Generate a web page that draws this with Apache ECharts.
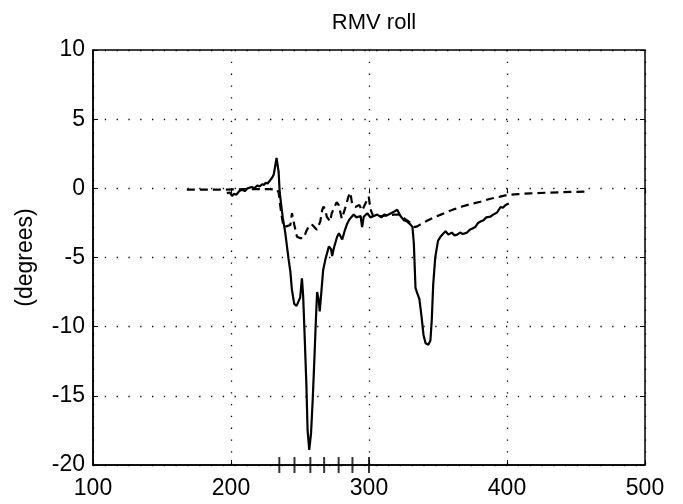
<!DOCTYPE html>
<html>
<head>
<meta charset="utf-8">
<script src="https://cdn.jsdelivr.net/npm/echarts@6/dist/echarts.min.js"></script>
<style>html,body{margin:0;padding:0;background:#fff}#c{width:683px;height:504px}</style>
</head>
<body>
<div id="c"></div>
<script>
var xTicks = [100, 200, 300, 400, 500];
var yTicks = [-20, -15, -10, -5, 0, 5, 10];
var eventX = [235, 246, 257.5, 267.5, 278, 288, 300];

var solidX = [197,199,200.8,202,204,206,208,210,212,215,217,219,221,222.5,224,225,226.5,228.5,230,231,232,233,233.8,234.5,235.3,236.5,237.5,239.3,241.7,243,244.1,245.8,247.5,248.9,250.1,251.4,252.3,253.3,254.6,255.5,256.7,258,259.2,260.4,261.6,262.4,263.6,264.3,265.3,266.8,268.5,270.9,272.5,273.3,274.6,276.9,278.2,280.6,282.3,284,285.5,287,288.9,291,293.9,295,296.2,298.8,301,303.4,306,309,311,313.1,316,318,320.4,322.8,325.2,327.6,330,331.5,332.5,333.7,335,336.5,338,339.5,341,343,344.5,345.5,346.5,348,350,351.8,353.5,355.5,357.5,360,362,363.9,366,368,371.1,373,375,377,379,380.8,383,385,388,390,392.8,394,395.3,397,399,401.3];
var solidY = [-0.35,-0.3,-0.55,-0.4,-0.45,-0.2,-0.1,-0.2,0.0,0.1,0.0,0.2,0.15,0.3,0.25,0.4,0.35,0.6,0.8,1.0,1.6,2.2,2.3,1.2,-0.3,-1.3,-2.1,-3.2,-5.1,-6.0,-7.3,-8.35,-8.5,-8.45,-7.9,-6.5,-7.8,-10.5,-14.1,-17.5,-18.9,-17.7,-15.3,-12.4,-9.3,-7.5,-8.1,-8.9,-7.7,-5.9,-5.1,-4.2,-4.4,-4.9,-4.3,-3.5,-3.25,-3.7,-3.1,-2.6,-2.3,-2.1,-1.9,-2.1,-2.0,-2.8,-2.05,-1.8,-2.1,-2.0,-1.9,-2.1,-1.9,-1.95,-1.8,-1.7,-1.55,-2.0,-2.3,-2.4,-2.6,-2.8,-4.0,-7.2,-7.6,-8.0,-9.2,-10.6,-11.2,-11.3,-11.0,-9.5,-7.0,-5.0,-3.8,-3.5,-3.3,-3.1,-3.35,-3.2,-3.4,-3.35,-3.2,-3.3,-3.2,-3.0,-2.9,-2.8,-2.5,-2.4,-2.3,-2.1,-2.05,-1.9,-1.75,-1.85,-1.35,-1.4,-1.2,-1.1];

var dashedX = [168,180,195,210,225,233.5,234.5,236,236.9,238.1,240,243,244.2,245.9,247.8,250.2,252.6,255,257.4,259,262.2,264.7,266,267,268.2,269.4,271.8,273,276.6,278,280.3,282.7,285.1,286.5,287.7,290.1,293,295,297.4,299.8,301,303,310,318,322,326,330,333,335,337.3,342,347,352,356.6,362,368,375,380.8,388,395,400,408,417,428,441,450,457];
var dashedY = [-0.1,-0.1,-0.1,-0.05,-0.05,-0.1,-0.3,-1.5,-2.1,-2.8,-2.75,-2.65,-1.8,-2.65,-3.5,-3.6,-3.6,-3.0,-2.6,-2.65,-3.0,-2.4,-1.6,-1.33,-1.5,-2.05,-2.4,-1.8,-1.0,-1.2,-2.2,-1.45,-0.6,-0.3,-1.1,-1.35,-1.2,-1.6,-1.1,-0.6,-1.5,-2.0,-2.0,-1.9,-1.9,-2.2,-2.5,-2.8,-2.75,-2.6,-2.35,-2.1,-1.9,-1.7,-1.5,-1.3,-1.1,-0.97,-0.75,-0.6,-0.48,-0.42,-0.36,-0.32,-0.28,-0.25,-0.23];

function pairs(xs, ys) { return xs.map(function (x, i) { return [x, ys[i]]; }); }

var FONT = '"Liberation Sans", Arial, sans-serif';
var dotted = { color: '#000', width: 1.3, type: [1.3, 10.5] };

var chart = echarts.init(document.getElementById('c'), null, { renderer: 'canvas' });
chart.setOption({
  backgroundColor: '#fff',
  animation: false,
  title: {
    text: 'RMV roll', left: 369, top: 7, textAlign: 'center',
    textStyle: { color: '#000', fontSize: 22, fontWeight: 'normal', fontFamily: FONT }
  },
  grid: { left: 93, right: 38, top: 50, bottom: 39, show: true, borderColor: '#000', borderWidth: 1.5, backgroundColor: 'transparent' },
  xAxis: [{
    type: 'value', min: xTicks[0], max: xTicks[xTicks.length - 1], interval: 100,
    axisLine: { show: true, onZero: false, lineStyle: { color: '#000', width: 1.5 } },
    axisTick: { show: true, inside: true, length: 5, lineStyle: { color: '#000' } },
    axisLabel: { color: '#000', fontSize: 23, fontFamily: FONT, margin: 12 },
    splitLine: { show: true, lineStyle: dotted }
  }, {
    type: 'value', position: 'top', min: 100, max: 500, interval: 100,
    axisLine: { show: false }, axisLabel: { show: false }, splitLine: { show: false },
    axisTick: { show: true, inside: true, length: 5, lineStyle: { color: '#000' } }
  }],
  yAxis: [{
    type: 'value', min: yTicks[0], max: yTicks[yTicks.length - 1], interval: 5,
    name: '(degrees)', nameLocation: 'middle', nameGap: 56,
    nameTextStyle: { color: '#000', fontSize: 23, fontFamily: FONT },
    axisLine: { show: true, onZero: false, lineStyle: { color: '#000', width: 1.5 } },
    axisTick: { show: true, inside: true, length: 5, lineStyle: { color: '#000' } },
    axisLabel: { color: '#000', fontSize: 23, fontFamily: FONT, margin: 8 },
    splitLine: { show: true, lineStyle: dotted }
  }, {
    type: 'value', position: 'right', min: -20, max: 10, interval: 5,
    axisLine: { show: false }, axisLabel: { show: false }, splitLine: { show: false },
    axisTick: { show: true, inside: true, length: 5, lineStyle: { color: '#000' } }
  }],
  series: [{
    type: 'line', data: pairs(dashedX, dashedY), showSymbol: false, symbol: 'none',
    lineStyle: { color: '#000', width: 2.2, type: [8, 5] }, z: 3
  }, {
    type: 'line', data: pairs(solidX, solidY), showSymbol: false, symbol: 'none',
    lineStyle: { color: '#000', width: 2.2 }, z: 4
  }, {
    type: 'scatter', data: eventX.map(function (x) { return [x, -20]; }),
    symbol: 'rect', symbolSize: [2, 16], clip: false,
    itemStyle: { color: '#000' }, z: 5
  }]
});
</script>
</body>
</html>
